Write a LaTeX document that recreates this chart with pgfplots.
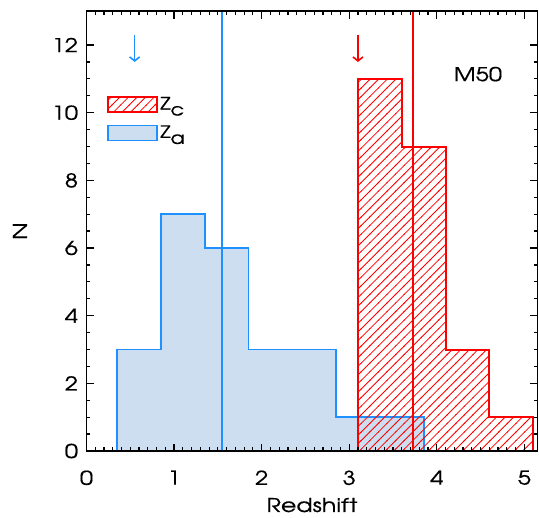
\documentclass[border=0pt]{standalone}
\usepackage{fontspec}
\setmainfont{texgyreadventor}[Extension=.otf, UprightFont=*-regular, BoldFont=*-bold, ItalicFont=*-italic, BoldItalicFont=*-bolditalic, FakeStretch=1.25, FakeBold=0.6]
\usepackage{pgfplots}
\pgfplotsset{compat=1.18}
\usetikzlibrary{patterns,arrows.meta}

\definecolor{zablue}{RGB}{30,144,255}
\definecolor{zafill}{RGB}{204,222,240}
\definecolor{zcred}{RGB}{255,0,0}

% 45 degree hatch, about 6bp between lines
\pgfdeclarepatternformonly{hatch}{\pgfqpoint{-1pt}{-1pt}}{\pgfqpoint{9.6bp}{9.6bp}}{\pgfqpoint{8.6bp}{8.6bp}}{
  \pgfsetlinewidth{0.8bp}
  \pgfpathmoveto{\pgfqpoint{-0.5bp}{-0.5bp}}
  \pgfpathlineto{\pgfqpoint{9.1bp}{9.1bp}}
  \pgfusepath{stroke}}

\begin{document}
\begin{tikzpicture}
\fontsize{19bp}{22bp}\selectfont
\begin{axis}[name=ax, scale only axis, width=451bp, height=439.8bp,
    xmin=0, xmax=5.15, ymin=0, ymax=13,
    xtick={0,...,5}, ytick={0,2,...,12},
    minor x tick num=9, minor y tick num=3,
    tick align=inside,
    major tick length=7.5bp, minor tick length=3.8bp,
    tick style={draw=black, line width=1.2bp},
    axis line style={line width=1.6bp},
    axis on top,
    tick label style={font=\fontsize{19bp}{22bp}\selectfont},
    /pgf/number format/assume math mode=true,
    xticklabel style={yshift=-13bp},
    yticklabel style={xshift=-2bp},
    xlabel={Redshift}, ylabel={N},
    xlabel style={at={(axis description cs:0.5,-0.123)}, anchor=center},
    ylabel style={at={(axis description cs:-0.1475,0.5)}, anchor=center},
    legend style={draw=none, fill=none, at={(axis description cs:0.0455,0.81)},
        anchor=north west, inner sep=0pt, row sep=9bp,
        font=\fontsize{17bp}{20bp}\selectfont, cells={anchor=west}},
    legend image code/.code={\draw[#1] (0bp,-7.5bp) rectangle (49bp,7.5bp);},
    reverse legend,
  ]
  % z_a histogram (bins of 0.5)
  \addplot[const plot, draw=zablue, fill=zafill, line width=1.8bp] coordinates {
      (0.35,0) (0.35,3) (0.85,7) (1.35,6) (1.85,3) (2.35,3) (2.85,1) (3.35,1) (3.85,0)
    } \closedcycle;
  \addlegendentry{Z\raisebox{-6bp}{a}}
  % z_c histogram
  \addplot[const plot, draw=zcred, line width=2bp, pattern=hatch, pattern color=zcred] coordinates {
      (3.1,0) (3.1,11) (3.6,9) (4.1,3) (4.6,1) (5.1,0)
    } \closedcycle;
  \addlegendentry{Z\raisebox{-6bp}{c}}
  % medians
  \addplot[zablue, line width=1.8bp, forget plot] coordinates {(1.55,0) (1.55,13)};
  \addplot[zcred, line width=1.8bp, forget plot] coordinates {(3.73,0) (3.73,13)};
  % arrows
  \addplot[zablue, line width=1.6bp, -{Straight Barb[length=4bp,width=10bp]}, forget plot]
    coordinates {(0.55,12.3) (0.55,11.5)};
  \addplot[zcred, line width=1.6bp, -{Straight Barb[length=4bp,width=10bp]}, forget plot]
    coordinates {(3.10,12.3) (3.10,11.5)};
  \node at (axis cs:4.47,11.14) {M50};
\end{axis}
\pgfresetboundingbox
\path ([shift={(-86.5bp,-67bp)}]ax.south west) rectangle ([shift={(1.5bp,11.2bp)}]ax.north east);
\end{tikzpicture}
\end{document}
